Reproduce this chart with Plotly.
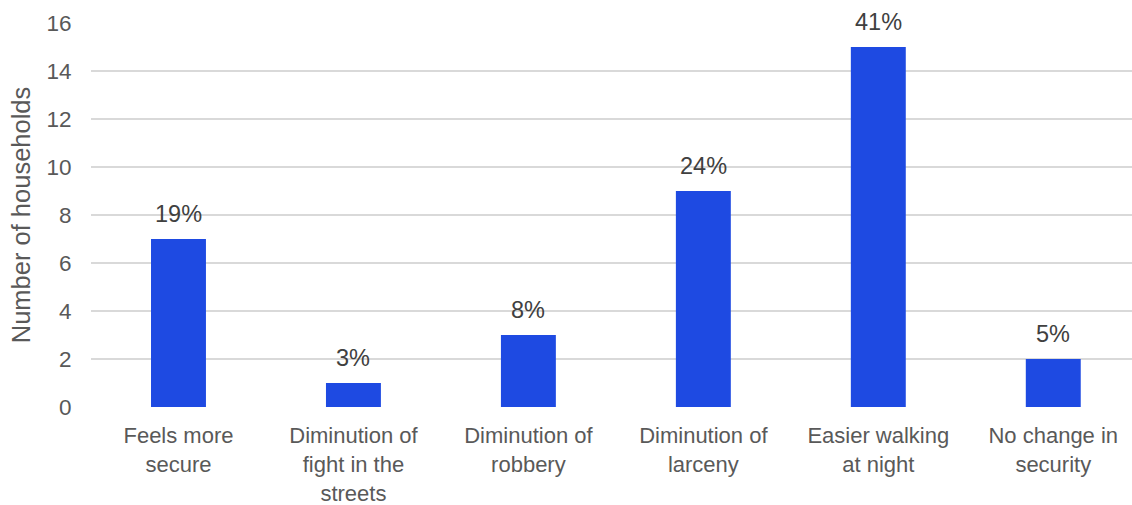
import plotly.graph_objects as go

categories = ["Feels more<br>secure", "Diminution of<br>fight in the<br>streets", "Diminution of<br>robbery",
              "Diminution of<br>larceny", "Easier walking<br>at night", "No change in<br>security"]
households = [7, 1, 3, 9, 15, 2]
percent_labels = ["19%", "3%", "8%", "24%", "41%", "5%"]
y_ticks = [0, 2, 4, 6, 8, 10, 12, 14, 16]

TEXT = "#595959"
FONT = "Liberation Sans, Arial, sans-serif"

fig = go.Figure()
fig.add_trace(go.Bar(
    x=list(range(len(categories))),
    y=households,
    marker=dict(color="#1e4ae2", line=dict(width=0)),
    width=0.314,
    hoverinfo="skip",
))

for i, (v, t) in enumerate(zip(households, percent_labels)):
    fig.add_annotation(x=i, y=v, text=t, showarrow=False, yanchor="bottom",
                       yshift=10, font=dict(family=FONT, size=23.5, color="#404040"))

fig.update_layout(
    width=1132, height=505,
    margin=dict(l=91, r=0, t=23, b=98),
    paper_bgcolor="white", plot_bgcolor="white",
    showlegend=False,
    font=dict(family=FONT, color=TEXT, size=22),
    xaxis=dict(
        range=[-0.5, 5.45], automargin=False,
        tickmode="array", tickvals=list(range(len(categories))), ticktext=categories,
        showgrid=False, zeroline=False, showline=False,
        ticks="outside", ticklen=9, tickcolor="rgba(0,0,0,0)",
        tickfont=dict(family=FONT, size=22, color=TEXT),
    ),
    yaxis=dict(
        range=[0, 16], tickmode="array", tickvals=y_ticks,
        showgrid=True, gridcolor="#d9d9d9", gridwidth=1.5,
        zeroline=False, showline=False,
        ticks="outside", ticklen=14, tickcolor="rgba(0,0,0,0)",
        tickfont=dict(family=FONT, size=22.5, color=TEXT),
        title=dict(text="Number of households", font=dict(family=FONT, size=25.5, color=TEXT), standoff=8),
    ),
)

fig.write_html("out.html")
